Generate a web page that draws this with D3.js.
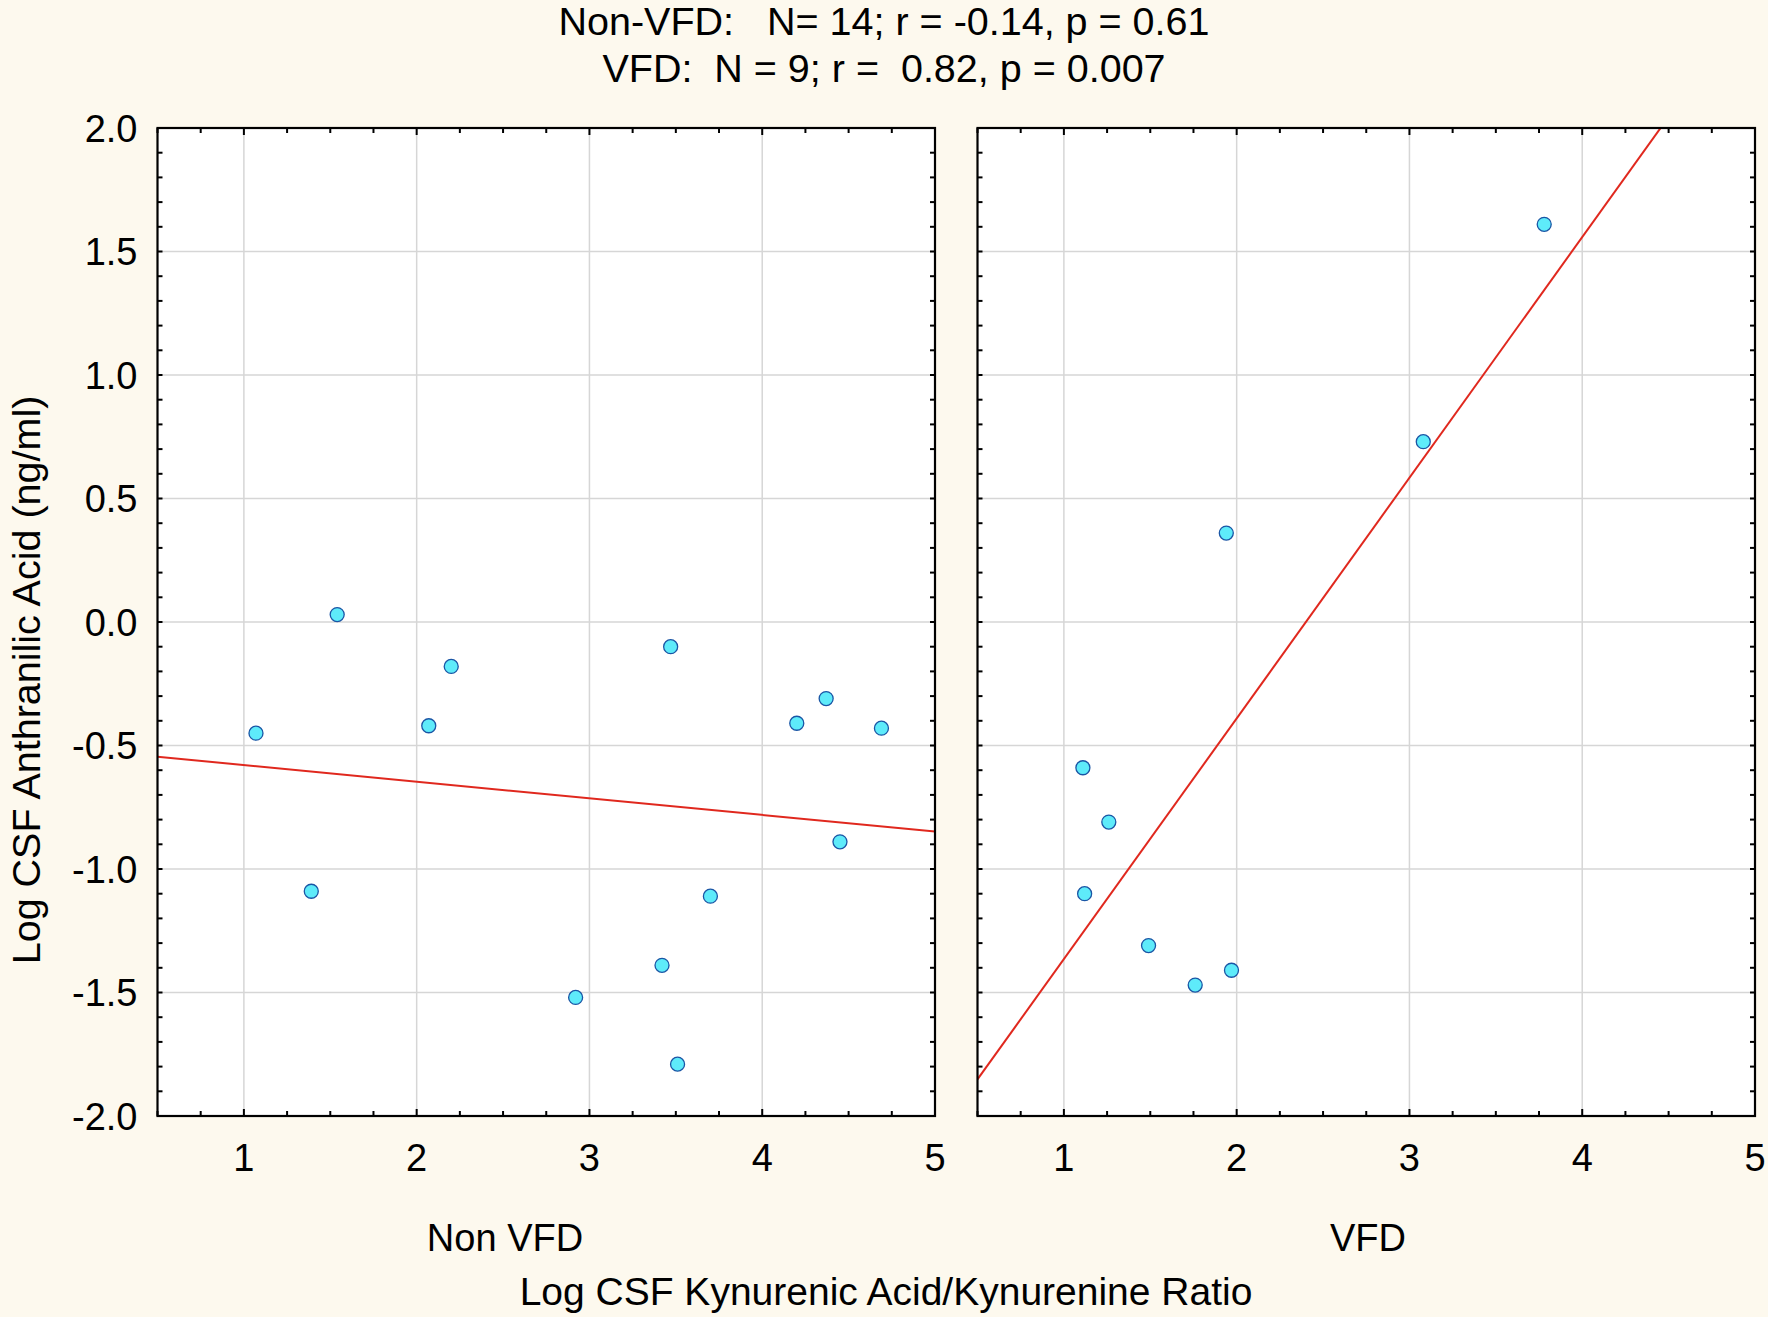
<!DOCTYPE html>
<html>
<head>
<meta charset="utf-8">
<script src="https://cdn.jsdelivr.net/npm/d3@7"></script>
<style>
  html, body { margin: 0; padding: 0; background: #fdf9ee; }
  svg { display: block; }
  text { font-family: "Liberation Sans", Arial, sans-serif; fill: #000; white-space: pre; }
</style>
</head>
<body>
<svg id="chart" width="1768" height="1317"></svg>
<script>
// ---- data ----
const titleLines = ["Non-VFD:   N= 14; r = -0.14, p = 0.61", "VFD:  N = 9; r =  0.82, p = 0.007"];
const panelNames = ["Non VFD", "VFD"];
const nonVfdX = [1.07, 1.39, 1.54, 2.07, 2.20, 2.92, 3.42, 3.47, 3.51, 3.70, 4.20, 4.37, 4.45, 4.69];
const nonVfdY = [-0.45, -1.09, 0.03, -0.42, -0.18, -1.52, -1.39, -0.10, -1.79, -1.11, -0.41, -0.31, -0.89, -0.43];
const vfdX = [1.11, 1.26, 1.12, 1.49, 1.76, 1.97, 1.94, 3.08, 3.78];
const vfdY = [-0.59, -0.81, -1.10, -1.31, -1.47, -1.41, 0.36, 0.73, 1.61];
const xTickLabels = [1, 2, 3, 4, 5];
const yTickLabels = [2.0, 1.5, 1.0, 0.5, 0.0, -0.5, -1.0, -1.5, -2.0];
const xTitle = "Log CSF Kynurenic Acid/Kynurenine Ratio";
const yTitle = "Log CSF Anthranilic Acid (ng/ml)";

// ---- layout ----
const svg = d3.select("#chart");
svg.append("rect").attr("width", 1768).attr("height", 1317).attr("fill", "#fdf9ee");

const plotTop = 128, plotBottom = 1116;
const panels = [
  { name: panelNames[0], xs: nonVfdX, ys: nonVfdY, x0: 157.5, x1: 935, labelX: 505, yLabels: true },
  { name: panelNames[1], xs: vfdX, ys: vfdY, x0: 977.5, x1: 1755, labelX: 1368, yLabels: false }
];
const y = d3.scaleLinear().domain([-2, 2]).range([plotBottom, plotTop]);

function ols(xs, ys) {
  const mx = d3.mean(xs), my = d3.mean(ys);
  let sxy = 0, sxx = 0;
  xs.forEach((xv, i) => { sxy += (xv - mx) * (ys[i] - my); sxx += (xv - mx) ** 2; });
  const b = sxy / sxx;
  return { b, a: my - b * mx };
}

const minorX = d3.range(0.5, 5.001, 0.25);
const minorY = d3.range(-2, 2.001, 0.1).map(v => Math.round(v * 10) / 10);
const fmtY = d => d.toFixed(1);

panels.forEach((p, pi) => {
  const x = d3.scaleLinear().domain([0.5, 5]).range([p.x0, p.x1]);
  const g = svg.append("g");

  // plot area
  g.append("rect").attr("x", p.x0).attr("y", plotTop)
    .attr("width", p.x1 - p.x0).attr("height", plotBottom - plotTop).attr("fill", "#ffffff");

  // grid
  g.selectAll(".vg").data([1, 2, 3, 4]).join("line")
    .attr("x1", d => x(d)).attr("x2", d => x(d)).attr("y1", plotTop).attr("y2", plotBottom)
    .attr("stroke", "#d6d6d6").attr("stroke-width", 1.5);
  g.selectAll(".hg").data([-1.5, -1, -0.5, 0, 0.5, 1, 1.5]).join("line")
    .attr("x1", p.x0).attr("x2", p.x1).attr("y1", d => y(d)).attr("y2", d => y(d))
    .attr("stroke", "#d6d6d6").attr("stroke-width", 1.5);

  // regression line (clipped)
  const clipId = "clip" + pi;
  svg.append("clipPath").attr("id", clipId).append("rect")
    .attr("x", p.x0).attr("y", plotTop).attr("width", p.x1 - p.x0).attr("height", plotBottom - plotTop);
  const fit = ols(p.xs, p.ys);
  const lineData = [0.5, 5].map(v => [v, fit.a + fit.b * v]);
  g.append("path").attr("clip-path", `url(#${clipId})`)
    .attr("d", d3.line().x(d => x(d[0])).y(d => y(d[1]))(lineData))
    .attr("fill", "none").attr("stroke", "#e0281e").attr("stroke-width", 2);

  // points
  g.selectAll(".pt").data(p.xs.map((xv, i) => [xv, p.ys[i]])).join("circle")
    .attr("cx", d => x(d[0])).attr("cy", d => y(d[1])).attr("r", 7)
    .attr("fill", "#5eebfa").attr("stroke", "#1a55a5").attr("stroke-width", 1.3);

  // ticks (inward, all four sides)
  const tickG = g.append("g").attr("stroke", "#000").attr("stroke-width", 2);
  minorX.forEach(v => {
    const len = Number.isInteger(v) ? 7 : 5;
    tickG.append("line").attr("x1", x(v)).attr("x2", x(v)).attr("y1", plotBottom).attr("y2", plotBottom - len);
    tickG.append("line").attr("x1", x(v)).attr("x2", x(v)).attr("y1", plotTop).attr("y2", plotTop + len);
  });
  minorY.forEach(v => {
    const len = 5;
    tickG.append("line").attr("x1", p.x0).attr("x2", p.x0 + len).attr("y1", y(v)).attr("y2", y(v));
    tickG.append("line").attr("x1", p.x1).attr("x2", p.x1 - len).attr("y1", y(v)).attr("y2", y(v));
  });

  // frame
  g.append("rect").attr("x", p.x0).attr("y", plotTop)
    .attr("width", p.x1 - p.x0).attr("height", plotBottom - plotTop)
    .attr("fill", "none").attr("stroke", "#000").attr("stroke-width", 2.2);

  // x tick labels
  g.selectAll(".xl").data(xTickLabels).join("text")
    .attr("x", d => x(d)).attr("y", 1171)
    .attr("text-anchor", "middle").attr("font-size", 38)
    .text(d => d);

  // y tick labels
  if (p.yLabels) {
    g.selectAll(".yl").data(yTickLabels).join("text")
      .attr("x", p.x0 - 20).attr("y", d => y(d) + 13.5)
      .attr("text-anchor", "end").attr("font-size", 38)
      .text(d => fmtY(d));
  }

  // panel name
  g.append("text").attr("x", p.labelX).attr("y", 1251)
    .attr("text-anchor", "middle").attr("font-size", 38).text(p.name);
});

// title
svg.selectAll(".title").data(titleLines).join("text")
  .attr("x", 884).attr("y", (d, i) => i === 0 ? 35 : 82)
  .attr("text-anchor", "middle").attr("font-size", 39.5)
  .text(d => d);

// axis titles
svg.append("text").attr("x", 886).attr("y", 1305)
  .attr("text-anchor", "middle").attr("font-size", 39).text(xTitle);
svg.append("text").attr("transform", "translate(40,680) rotate(-90)")
  .attr("text-anchor", "middle").attr("font-size", 39.5).text(yTitle);
</script>
</body>
</html>
